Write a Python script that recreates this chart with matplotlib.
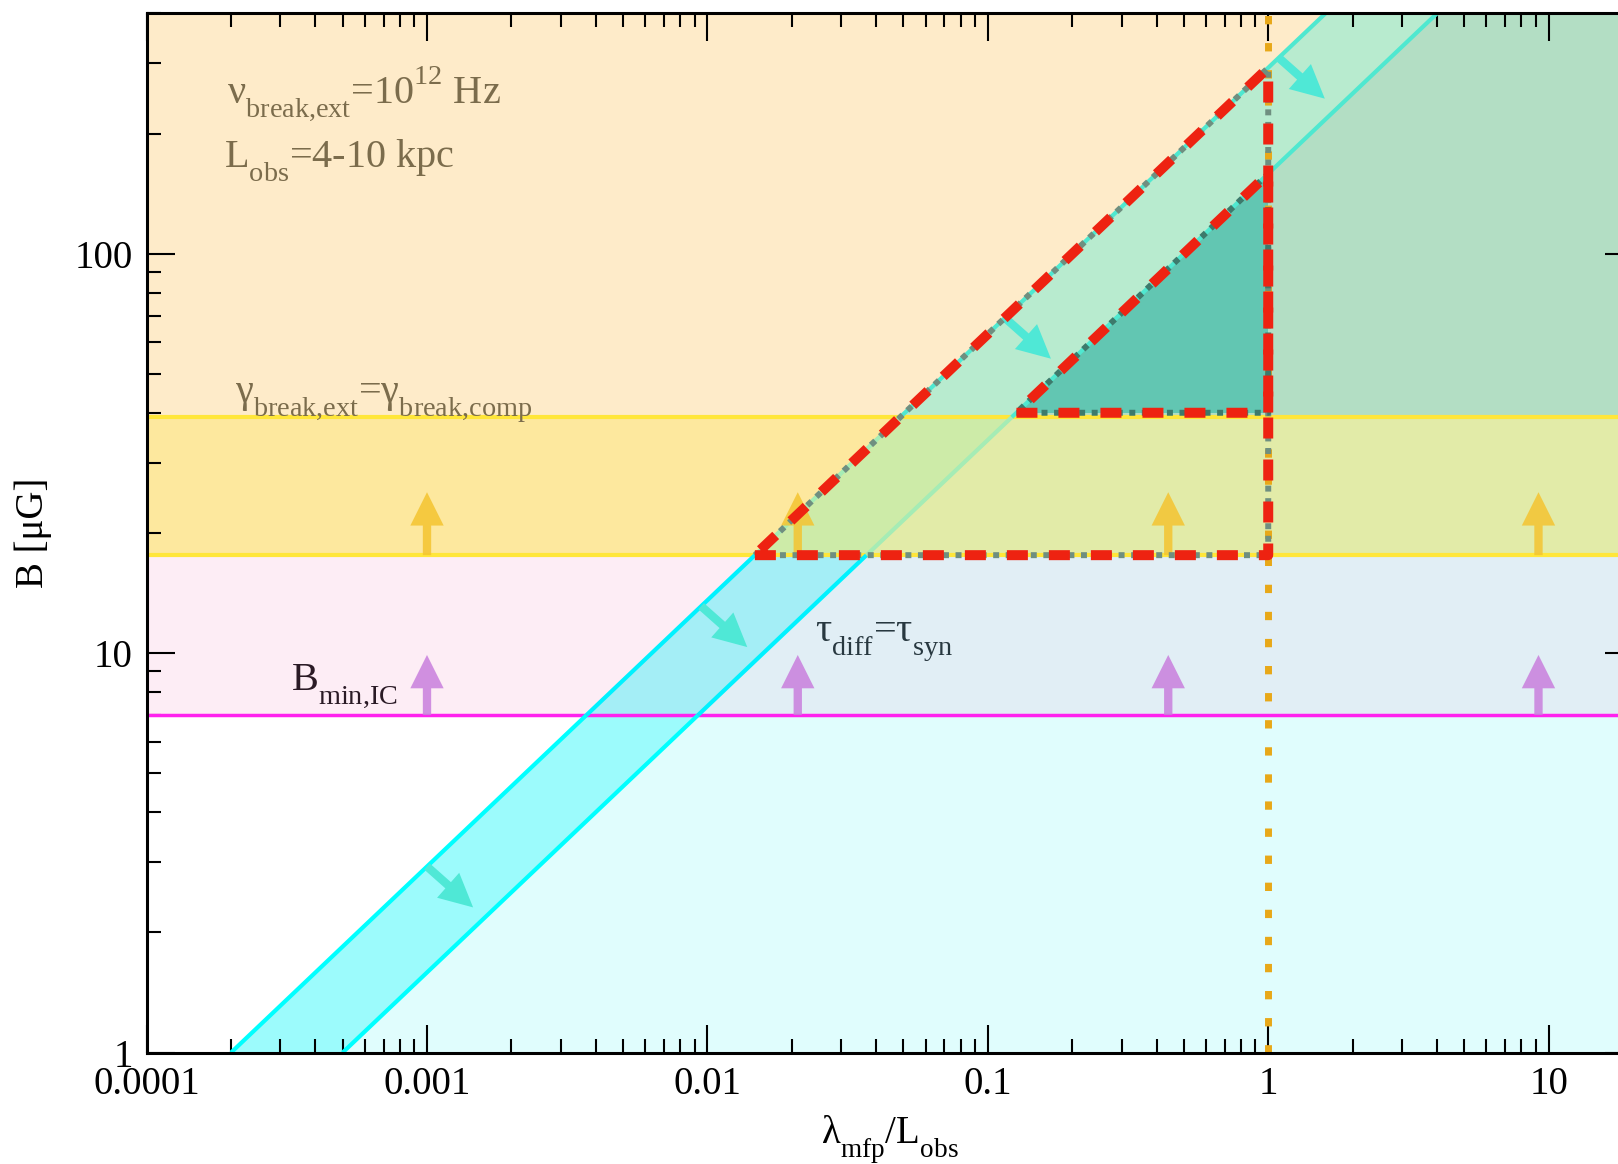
import numpy as np
import matplotlib.pyplot as plt
import matplotlib._mathtext as mt
from matplotlib.ticker import LogLocator, FuncFormatter, NullFormatter

plt.rcParams['font.family'] = ['Liberation Serif', 'DejaVu Serif']
plt.rcParams['mathtext.fontset'] = 'custom'
plt.rcParams['mathtext.rm'] = 'Liberation Serif'
plt.rcParams['mathtext.it'] = 'Liberation Serif:italic'
plt.rcParams['mathtext.bf'] = 'Liberation Serif:bold'
# deeper subscripts / higher superscripts, like the original
mt.FontConstantsBase.sub1 = 0.75
mt.FontConstantsBase.sup1 = 1.0

# constraints in the (lambda_mfp/L_obs, B[muG]) plane
B_ic = 7.0                    # B_min,IC
B_gamma = [17.6, 39.0]        # gamma_break,ext = gamma_break,comp (L_obs = 10, 4 kpc)
x0_diff = [2.0e-4, 5.0e-4]    # tau_diff = tau_syn lines pass B=1 here
slope = 2.0 / 3.0             # B ~ (lambda/L)^(2/3)
B_tri = [17.6, 40.0]          # base of the two allowed triangles
x_edge = 1.0                  # lambda_mfp = L_obs

# horizontal bands and their colours (bg / between tau lines / right of tau lines)
band_lo = [1.0, 7.0, 17.6, 39.0]
band_hi = [7.0, 17.6, 39.0, 400.0]
band_bg = ['#ffffff', '#fdedf5', '#fde89e', '#feebc9']
band_mid = ['#9cfbfc', '#a4eef6', '#cdeba8', '#b8ebcf']
band_right = ['#e0fdfd', '#e1eef5', '#e2eba8', '#b3dec4']
tau_col = ['#00ffff', '#00f2ff', '#a5ecb5', '#4fe8d0']

arrow_x = [0.001, 0.021, 0.44, 9.2]
arrow_top = [9.9, 25.3]              # tips of B_min,IC / gamma arrows
arrow_x_diff = [0.001, 0.0095, 0.115, 1.09]
arrow_step = [1.46, 0.79]           # tau arrows: factor in x, factor in B

fig = plt.figure(figsize=(16.18, 11.64), dpi=100)
ax = fig.add_axes([0.0906, 0.0957, 0.9187, 0.8928])
ax.set_xscale('log')
ax.set_yscale('log')
ax.set_xlim(1e-4, 20)
ax.set_ylim(1, 400)

x = np.logspace(-4, np.log10(20), 600)
L1 = (x / x0_diff[0]) ** slope
L2 = (x / x0_diff[1]) ** slope
for lo, hi, bg, mid, rt in zip(band_lo, band_hi, band_bg, band_mid, band_right):
    ax.axhspan(lo, hi, color=bg, lw=0, zorder=0.5)
    ax.fill_between(x, lo, np.clip(L1, lo, hi), color=mid, lw=0, zorder=1)
    ax.fill_between(x, lo, np.clip(L2, lo, hi), color=rt, lw=0, zorder=1.1)

# small allowed triangle (dark teal)
xa = x0_diff[1] * B_tri[1] ** (1 / slope)
ax.fill([xa, x_edge, x_edge], [B_tri[1], B_tri[1], (x_edge / x0_diff[1]) ** slope],
        color='#62c6b2', lw=0, zorder=1.5)

# tau_diff = tau_syn lines, coloured per band
for x0 in x0_diff:
    for lo, hi, c in zip(band_lo, band_hi, tau_col):
        bb = np.array([lo, hi])
        ax.plot(x0 * bb ** (1 / slope), bb, color=c, lw=3, zorder=2.3,
                solid_capstyle='butt')

ax.axhline(B_ic, color='#ff22ee', lw=2.5, zorder=2.2)
for b in B_gamma:
    ax.axhline(b, color='#ffe63a', lw=3, zorder=2.2)

ax.plot([x_edge, x_edge], [1, 400], color='#e8a818', lw=5, dashes=(1.2, 2.7),
        dash_capstyle='butt', zorder=2.5)

simple = 'simple,head_length=0.8,head_width=0.8,tail_width=0.2'
for xx in arrow_x:
    ax.annotate('', xy=(xx, arrow_top[0]), xytext=(xx, B_ic),
                arrowprops=dict(arrowstyle=simple, mutation_scale=30, fc='#c97fdd',
                                ec='none', alpha=0.85, shrinkA=0, shrinkB=0), zorder=3)
    ax.annotate('', xy=(xx, arrow_top[1]), xytext=(xx, B_gamma[0]),
                arrowprops=dict(arrowstyle=simple, mutation_scale=30, fc='#f4c430',
                                ec='none', alpha=0.85, shrinkA=0, shrinkB=0), zorder=3)
for xx in arrow_x_diff:
    b = (xx / x0_diff[0]) ** slope
    ax.annotate('', xy=(xx * arrow_step[0], b * arrow_step[1]), xytext=(xx, b),
                arrowprops=dict(arrowstyle=simple, mutation_scale=30, fc='#4fe8d6',
                                ec='none', shrinkA=0, shrinkB=0), zorder=3)

# allowed triangles: grey dotted + red dashed outline
for x0, bt, gc in zip(x0_diff, B_tri, ['#6f8f80', '#3d7a6c']):
    xl = x0 * bt ** (1 / slope)
    top = (x_edge / x0) ** slope
    tx = [xl, x_edge, x_edge, xl]
    ty = [bt, bt, top, bt]
    ax.plot(tx, ty, color=gc, lw=4.3, dashes=(1, 1.1), zorder=4)
    ax.plot(tx, ty, color='#ee2211', lw=7.2, dashes=(2.1, 2.1), zorder=5)

olive = '#7b6c4c'
ax.text(0.054, 0.914, 'ν$_{\\mathrm{break{,}ext}}$=10$^{12}$ Hz', transform=ax.transAxes,
        fontsize=29, color=olive, va='baseline', zorder=6)
ax.text(0.052, 0.851, 'L$_{\\mathrm{obs}}$=4-10 kpc', transform=ax.transAxes,
        fontsize=29, color=olive, va='baseline', zorder=6)
ax.text(0.0595, 0.626, 'γ$_{\\mathrm{break{,}ext}}$=γ$_{\\mathrm{break{,}comp}}$',
        transform=ax.transAxes, fontsize=29, color=olive, va='baseline', zorder=6)
ax.text(0.097, 0.349, 'B$_{\\mathrm{min{,}IC}}$', transform=ax.transAxes,
        fontsize=29, color='#2a1a25', va='baseline', zorder=6)
ax.text(0.4497, 0.396, 'τ$_{\\mathrm{diff}}$=τ$_{\\mathrm{syn}}$', transform=ax.transAxes,
        fontsize=29, color='#283840', va='baseline', zorder=6)

for axis in (ax.xaxis, ax.yaxis):
    axis.set_major_locator(LogLocator(base=10, numticks=20))
    axis.set_minor_locator(LogLocator(base=10, subs=np.arange(2, 10), numticks=100))
    axis.set_major_formatter(FuncFormatter(lambda v, p: f'{v:g}'))
    axis.set_minor_formatter(NullFormatter())
ax.tick_params(which='both', direction='in', top=True, right=True, width=1.5,
               colors='k', labelsize=28)
ax.tick_params(which='major', length=20, pad=10)
ax.tick_params(which='minor', length=10)
for s in ax.spines.values():
    s.set_linewidth(2.2)
    s.set_zorder(7)

ax.set_xlabel('λ$_{\\mathrm{mfp}}$/L$_{\\mathrm{obs}}$', fontsize=28)
ax.set_ylabel('B [μG]', fontsize=28)
ax.xaxis.set_label_coords(0.5, -0.058)
ax.yaxis.set_label_coords(-0.0636, 0.5)

fig.savefig('out.png', dpi=100)
